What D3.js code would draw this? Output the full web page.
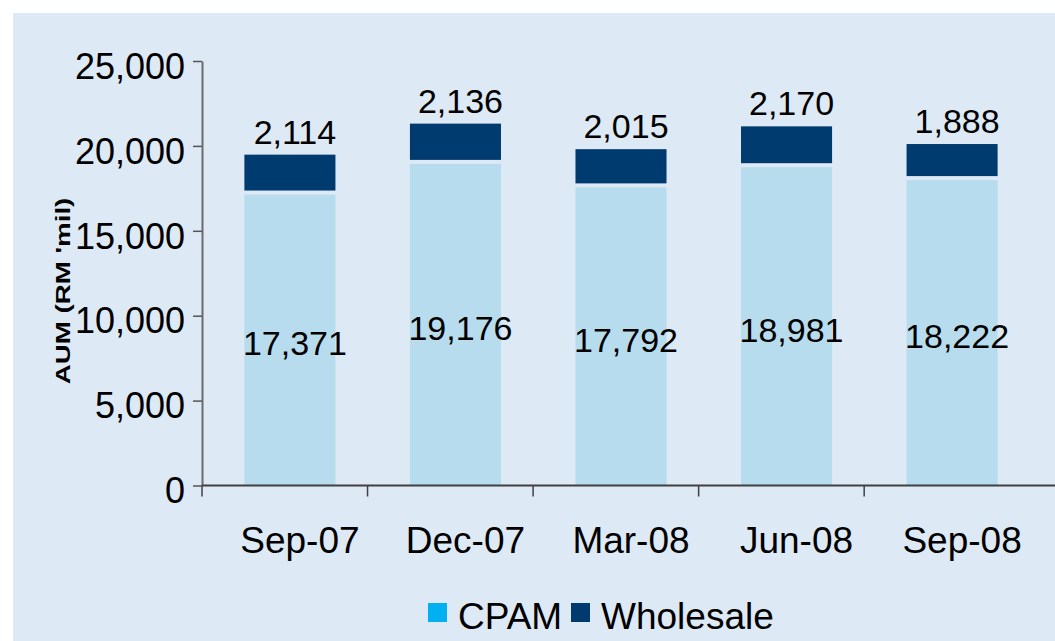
<!DOCTYPE html>
<html>
<head>
<meta charset="utf-8">
<script src="https://cdn.jsdelivr.net/npm/d3@7"></script>
<style>
  html, body { margin: 0; padding: 0; background: #ffffff; }
  svg { display: block; }
  text { font-family: "Liberation Sans", Arial, sans-serif; fill: #000; }
</style>
</head>
<body>
<script>
const categories = ["Sep-07", "Dec-07", "Mar-08", "Jun-08", "Sep-08"];
const cpam = [17371, 19176, 17792, 18981, 18222];
const wholesale = [2114, 2136, 2015, 2170, 1888];
const yTicks = [0, 5000, 10000, 15000, 20000, 25000];
const seriesNames = ["CPAM", "Wholesale"];
const yTitle = "AUM (RM 'mil)";

const W = 1055, H = 641;
const colors = { cpamBar: "#b6dcee", cpamLegend: "#00b0f0", wholesale: "#003b6f", bg: "#dde9f5" };

const svg = d3.select("body").append("svg").attr("width", W).attr("height", H);

svg.append("rect").attr("x", 13).attr("y", 13).attr("width", W - 13).attr("height", H - 13).attr("fill", colors.bg);

const x = d3.scaleBand().domain(categories).range([203, 1039]).paddingInner(0.45).paddingOuter(0.25);
const y = d3.scaleLinear().domain([0, 25000]).range([485.5, 61]);

const data = categories.map((c, i) => ({ cat: c, cpam: cpam[i], wholesale: wholesale[i], total: cpam[i] + wholesale[i] }));

const gap = 4;
// Wholesale segments
svg.selectAll("rect.wh").data(data).enter().append("rect")
  .attr("class", "wh")
  .attr("x", d => x(d.cat)).attr("width", x.bandwidth())
  .attr("y", d => y(d.total)).attr("height", d => y(d.cpam) - y(d.total))
  .attr("fill", colors.wholesale);
// CPAM segments
svg.selectAll("rect.cp").data(data).enter().append("rect")
  .attr("class", "cp")
  .attr("x", d => x(d.cat)).attr("width", x.bandwidth())
  .attr("y", d => y(d.cpam) + gap).attr("height", d => y(0) - y(d.cpam) - gap)
  .attr("fill", colors.cpamBar);

// Y axis
const yAxis = d3.axisLeft(y).tickValues(yTicks).tickFormat(d3.format(",")).tickSize(9).tickSizeOuter(0).tickPadding(8);
const gy = svg.append("g").attr("transform", "translate(202,0)").call(yAxis);
gy.select(".domain").attr("stroke", "#6b6b6b").attr("stroke-width", 2);
gy.selectAll(".tick line").attr("stroke", "#555").attr("stroke-width", 1.5);
gy.selectAll(".tick text").style("font-size", "36px").attr("dy", "0.48em");

// X axis line and ticks
svg.append("line").attr("x1", 202).attr("x2", W).attr("y1", y(0)).attr("y2", y(0))
  .attr("stroke", "#404040").attr("stroke-width", 2);
const step = x.step();
const x0 = 202;
svg.selectAll("line.xt").data(categories).enter().append("line")
  .attr("class", "xt")
  .attr("x1", (d, i) => x0 + i * step).attr("x2", (d, i) => x0 + i * step)
  .attr("y1", y(0)).attr("y2", y(0) + 11)
  .attr("stroke", "#404040").attr("stroke-width", 1.5);

// Category labels
svg.selectAll("text.cat").data(categories).enter().append("text")
  .attr("class", "cat")
  .attr("x", d => x(d) + x.bandwidth() / 2 + 10).attr("y", 553)
  .attr("text-anchor", "middle").style("font-size", "37px").text(d => d);

// Data labels
const fmt = d3.format(",");
svg.selectAll("text.whl").data(data).enter().append("text")
  .attr("x", d => x(d.cat) + x.bandwidth() / 2 + 5).attr("y", d => y(d.total) - 11)
  .attr("text-anchor", "middle").style("font-size", "34px").text(d => fmt(d.wholesale));
svg.selectAll("text.cpl").data(data).enter().append("text")
  .attr("x", d => x(d.cat) + x.bandwidth() / 2 + 5).attr("y", d => (y(d.cpam) + gap + y(0)) / 2 + 3)
  .attr("dy", "0.36em")
  .attr("text-anchor", "middle").style("font-size", "34px").text(d => fmt(d.cpam));

// Y title
svg.append("text")
  .attr("transform", "translate(70,291) rotate(-90) scale(1.32,1)")
  .attr("text-anchor", "middle").style("font-size", "21px").style("font-weight", "bold")
  .text(yTitle);

// Legend
const legendColors = [colors.cpamLegend, colors.wholesale];
const legendX = [428, 571];
const lg = svg.selectAll("g.lg").data(seriesNames).enter().append("g")
  .attr("transform", (d, i) => `translate(${legendX[i]},603)`);
lg.append("rect").attr("width", 19).attr("height", 19).attr("fill", (d, i) => legendColors[i]);
lg.append("text").attr("x", 30).attr("y", 26).style("font-size", "37px").text(d => d);
</script>
</body>
</html>
